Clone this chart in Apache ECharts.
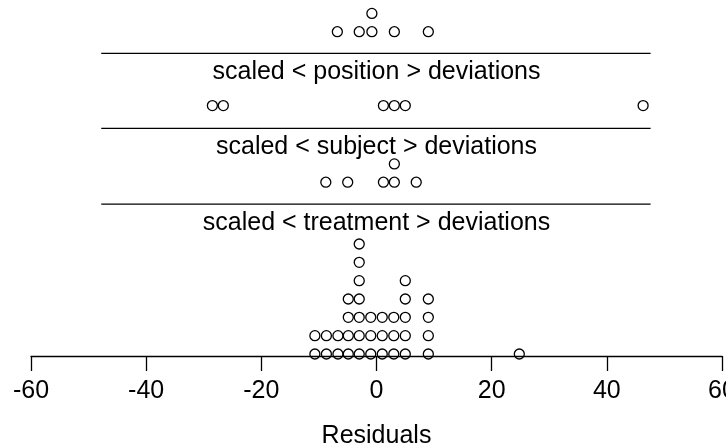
<!DOCTYPE html>
<html>
<head>
<meta charset="utf-8">
<script src="https://cdn.jsdelivr.net/npm/echarts@6/dist/echarts.min.js"></script>
<style>html,body{margin:0;padding:0;background:#fff;}#chart{width:726px;height:448px;}</style>
</head>
<body>
<div id="chart"></div>
<script>
// ---- data ----
const topResiduals = [-6.8, -3.0, -0.8, -0.8, 3.1, 9.0];
const positionDeviations = [-28.5, -26.6, 1.2, 3.1, 5.0, 46.3];
const subjectDeviations = [-8.8, -5.0, 1.2, 3.1, 3.1, 6.9];
const treatmentDeviations = [
  -10.7, -10.7, -8.7, -8.7, -6.7, -6.7,
  -4.9, -4.9, -4.9, -4.9,
  -3, -3, -3, -3, -3, -3, -3,
  -1, -1, -1, 1, 1, 1, 3, 3, 3,
  5, 5, 5, 5, 5, 9, 9, 9, 9, 24.8
];
const panelTitles = ['scaled < position > deviations', 'scaled < subject > deviations', 'scaled < treatment > deviations'];
const xTicks = [-60, -40, -20, 0, 20, 40, 60];
const axisTitle = 'Residuals';

// ---- layout (row units on a hidden y axis) ----
const panelBase = [17.69, 13.66, 9.48, 0.11];
const separatorY = [16.51, 12.42, 8.28];
const titleY = [15.50, 11.41, 7.26];
const separatorRange = [-47.8, 47.6];

function stack(values, base) {
  const seen = {};
  return values.map(v => {
    const k = String(v);
    seen[k] = (seen[k] || 0);
    const lvl = seen[k]++;
    return [v, base + lvl];
  });
}

const font = '"Liberation Sans", Arial, sans-serif';
const series = [];
[topResiduals, positionDeviations, subjectDeviations, treatmentDeviations].forEach((vals, i) => {
  series.push({
    type: 'scatter',
    data: stack(vals, panelBase[i]),
    symbol: 'circle',
    symbolSize: 10,
    itemStyle: { color: 'rgba(0,0,0,0)', borderColor: '#000', borderWidth: 1.3, opacity: 1 },
    silent: true,
    clip: false
  });
});
separatorY.forEach(y => {
  series.push({
    type: 'line',
    data: [[separatorRange[0], y], [separatorRange[1], y]],
    symbol: 'none',
    lineStyle: { color: '#000', width: 1.3 },
    silent: true
  });
});
panelTitles.forEach((t, i) => {
  series.push({
    type: 'scatter',
    data: [[0, titleY[i]]],
    symbolSize: 0,
    silent: true,
    itemStyle: { opacity: 1 },
    label: {
      show: true, position: 'inside', formatter: t,
      fontFamily: font, fontSize: 25, color: '#000', textBorderWidth: 0
    }
  });
});

const chart = echarts.init(document.getElementById('chart'), null, { renderer: 'canvas' });
chart.setOption({
  animation: false,
  backgroundColor: '#fff',
  grid: { left: 31, right: 4, top: 0, height: 356, containLabel: false, outerBoundsMode: 'none' },
  xAxis: {
    type: 'value', min: xTicks[0], max: xTicks[xTicks.length - 1], interval: 20,
    axisLine: { onZero: false, lineStyle: { color: '#000', width: 1.3 } },
    axisTick: { show: true, length: 15, lineStyle: { color: '#000', width: 1.3 } },
    axisLabel: { margin: 23, fontFamily: font, fontSize: 25, color: '#000', hideOverlap: false },
    splitLine: { show: false },
    name: axisTitle, nameLocation: 'middle', nameGap: 68,
    nameTextStyle: { fontFamily: font, fontSize: 25, color: '#000' }
  },
  yAxis: { type: 'value', min: 0, max: 19.42, show: false },
  series: series
});
</script>
</body>
</html>
